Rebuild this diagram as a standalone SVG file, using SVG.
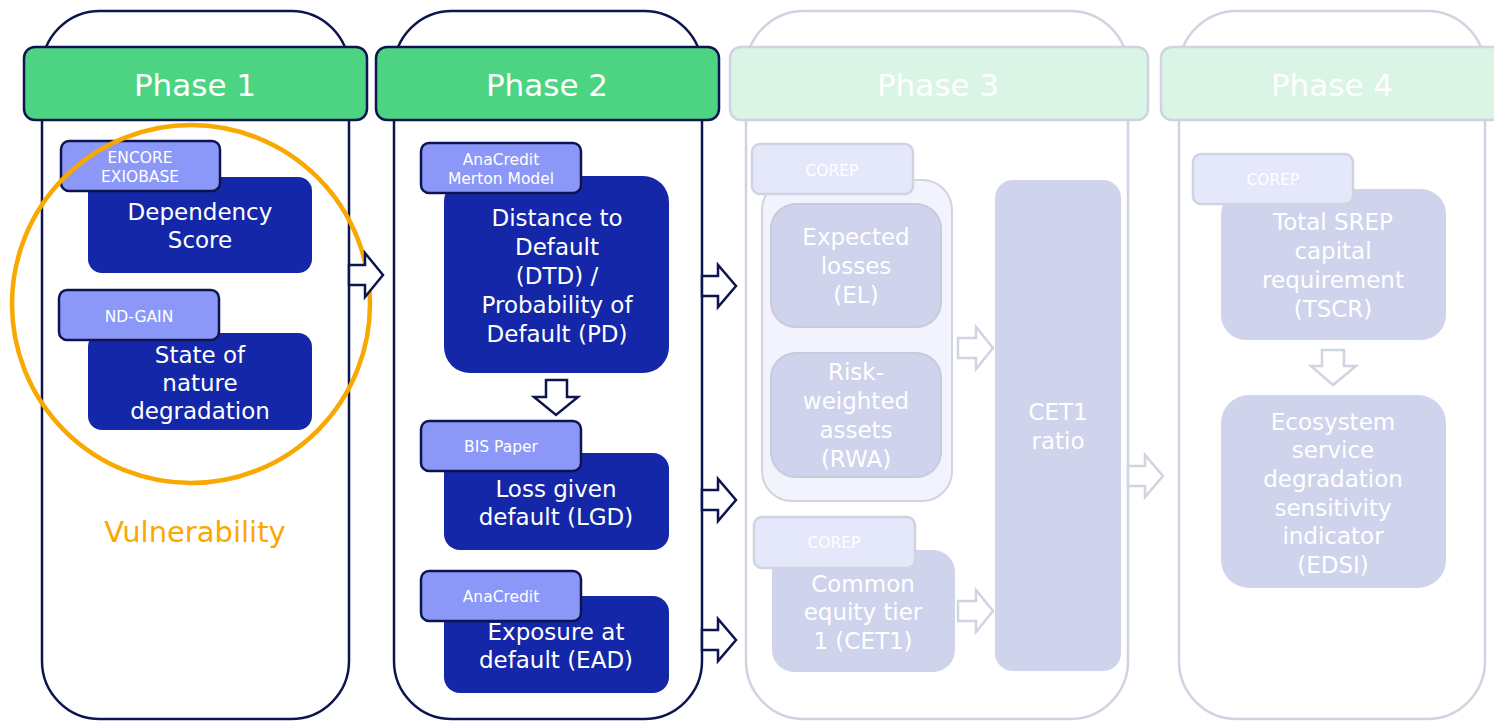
<svg xmlns="http://www.w3.org/2000/svg" width="1494" height="721" viewBox="0 0 1494 721">
  <style>
    text { font-family: "DejaVu Sans", Verdana, sans-serif; text-anchor: middle; }
    .col { fill: #ffffff; stroke: #0d1450; stroke-width: 2.5; }
    .col-f { fill: #ffffff; stroke: #d0d3e0; stroke-width: 2.5; }
    .hdr { fill: #4cd483; stroke: #0d1450; stroke-width: 2.5; }
    .hdr-f { fill: #daf5e6; stroke: #d0d3e0; stroke-width: 2.5; }
    .hdr-t { fill: #ffffff; font-size: 31px; }
    .box { fill: #1427a8; }
    .box-t { fill: #ffffff; font-size: 23px; }
    .tag { fill: #8b98f8; stroke: #0d1450; stroke-width: 2.5; }
    .tag-t { fill: #ffffff; font-size: 15.5px; }
    .box-f { fill: #d0d3ec; }
    .box-fs { fill: #d0d3ec; stroke: #c8cbdd; stroke-width: 2; }
    .grp-f { fill: #f2f3fc; stroke: #d0d3e0; stroke-width: 2; }
    .tag-f { fill: #e5e8fa; stroke: #d0d3e0; stroke-width: 2.5; }
    .arr { fill: #ffffff; stroke: #0d1450; stroke-width: 2.5; stroke-linejoin: miter; }
    .arr-f { fill: #ffffff; stroke: #d0d3e0; stroke-width: 2.5; stroke-linejoin: miter; }
  </style>

  <!-- Phase 1 -->
  <g id="phase1">
    <rect class="col" x="42" y="11" width="307" height="708" rx="58"/>
    <rect class="hdr" x="24" y="47" width="343" height="73" rx="11"/>
    <text class="hdr-t" x="195" y="96">Phase 1</text>
  </g>
  <g id="dependency-score">
    <rect class="box" x="88" y="177" width="224" height="96" rx="14"/>
    <text class="box-t" x="200" y="220">Dependency</text>
    <text class="box-t" x="200" y="248">Score</text>
  </g>
  <g id="tag-encore">
    <rect class="tag" x="61" y="141" width="159" height="50" rx="8"/>
    <text class="tag-t" x="140" y="163">ENCORE</text>
    <text class="tag-t" x="140" y="182">EXIOBASE</text>
  </g>
  <g id="nature-degradation">
    <rect class="box" x="88" y="333" width="224" height="97" rx="14"/>
    <text class="box-t" x="200" y="363">State of</text>
    <text class="box-t" x="200" y="391">nature</text>
    <text class="box-t" x="200" y="419">degradation</text>
  </g>
  <g id="tag-ndgain">
    <rect class="tag" x="59" y="290" width="160" height="50" rx="8"/>
    <text class="tag-t" x="139" y="322">ND-GAIN</text>
  </g>
  <g id="vulnerability">
    <circle cx="191" cy="304" r="179" fill="none" stroke="#f9a800" stroke-width="4.5"/>
    <text x="195" y="542" fill="#f9a800" font-size="29">Vulnerability</text>
  </g>

  <!-- Phase 2 -->
  <g id="phase2">
    <rect class="col" x="394" y="11" width="308" height="708" rx="58"/>
    <rect class="hdr" x="376" y="47" width="343" height="73" rx="11"/>
    <text class="hdr-t" x="547" y="96">Phase 2</text>
  </g>
  <g id="dtd-pd">
    <rect class="box" x="444" y="176" width="225" height="197" rx="26"/>
    <text class="box-t" x="557" y="226">Distance to</text>
    <text class="box-t" x="557" y="255">Default</text>
    <text class="box-t" x="557" y="284">(DTD) /</text>
    <text class="box-t" x="557" y="313">Probability of</text>
    <text class="box-t" x="557" y="342">Default (PD)</text>
  </g>
  <g id="tag-anacredit-merton">
    <rect class="tag" x="421" y="143" width="160" height="50" rx="8"/>
    <text class="tag-t" x="501" y="165">AnaCredit</text>
    <text class="tag-t" x="501" y="184">Merton Model</text>
  </g>
  <g id="lgd">
    <rect class="box" x="444" y="453" width="225" height="97" rx="16"/>
    <text class="box-t" x="556" y="497">Loss given</text>
    <text class="box-t" x="556" y="525">default (LGD)</text>
  </g>
  <g id="tag-bis">
    <rect class="tag" x="421" y="421" width="160" height="50" rx="8"/>
    <text class="tag-t" x="501" y="452">BIS Paper</text>
  </g>
  <g id="ead">
    <rect class="box" x="444" y="596" width="225" height="97" rx="16"/>
    <text class="box-t" x="556" y="640">Exposure at</text>
    <text class="box-t" x="556" y="668">default (EAD)</text>
  </g>
  <g id="tag-anacredit">
    <rect class="tag" x="421" y="571" width="160" height="50" rx="8"/>
    <text class="tag-t" x="501" y="602">AnaCredit</text>
  </g>

  <!-- Phase 3 -->
  <g id="phase3">
    <rect class="col-f" x="746" y="11" width="382" height="708" rx="58"/>
    <rect class="hdr-f" x="730" y="47" width="418" height="73" rx="11"/>
    <text class="hdr-t" x="938" y="96">Phase 3</text>
  </g>
  <g id="el-rwa-group">
    <rect class="grp-f" x="762" y="180" width="190" height="321" rx="30"/>
  </g>
  <g id="tag-corep-1">
    <rect class="tag-f" x="752" y="144" width="161" height="50" rx="8"/>
    <text class="tag-t" x="832" y="176">COREP</text>
  </g>
  <g id="expected-losses">
    <rect class="box-fs" x="771" y="204" width="170" height="123" rx="25"/>
    <text class="box-t" x="856" y="245">Expected</text>
    <text class="box-t" x="856" y="274">losses</text>
    <text class="box-t" x="856" y="303">(EL)</text>
  </g>
  <g id="rwa">
    <rect class="box-fs" x="771" y="353" width="170" height="124" rx="25"/>
    <text class="box-t" x="856" y="380">Risk-</text>
    <text class="box-t" x="856" y="409">weighted</text>
    <text class="box-t" x="856" y="438">assets</text>
    <text class="box-t" x="856" y="467">(RWA)</text>
  </g>
  <g id="cet1-ratio">
    <rect class="box-f" x="995" y="180" width="126" height="491" rx="18"/>
    <text class="box-t" x="1058" y="420">CET1</text>
    <text class="box-t" x="1058" y="449">ratio</text>
  </g>
  <g id="cet1">
    <rect class="box-f" x="772" y="550" width="183" height="122" rx="22"/>
    <text class="box-t" x="863" y="592">Common</text>
    <text class="box-t" x="863" y="620">equity tier</text>
    <text class="box-t" x="863" y="649">1 (CET1)</text>
  </g>
  <g id="tag-corep-2">
    <rect class="tag-f" x="754" y="517" width="161" height="51" rx="8"/>
    <text class="tag-t" x="834" y="548">COREP</text>
  </g>

  <!-- Phase 4 -->
  <g id="phase4">
    <rect class="col-f" x="1179" y="11" width="306" height="708" rx="58"/>
    <rect class="hdr-f" x="1161" y="47" width="350" height="73" rx="11"/>
    <text class="hdr-t" x="1332" y="96">Phase 4</text>
  </g>
  <g id="tscr">
    <rect class="box-f" x="1221" y="189" width="225" height="151" rx="25"/>
    <text class="box-t" x="1333" y="230">Total SREP</text>
    <text class="box-t" x="1333" y="259">capital</text>
    <text class="box-t" x="1333" y="288">requirement</text>
    <text class="box-t" x="1333" y="317">(TSCR)</text>
  </g>
  <g id="tag-corep-3">
    <rect class="tag-f" x="1193" y="154" width="160" height="50" rx="8"/>
    <text class="tag-t" x="1273" y="185">COREP</text>
  </g>
  <g id="edsi">
    <rect class="box-f" x="1221" y="395" width="225" height="193" rx="28"/>
    <text class="box-t" x="1333" y="430">Ecosystem</text>
    <text class="box-t" x="1333" y="458">service</text>
    <text class="box-t" x="1333" y="487">degradation</text>
    <text class="box-t" x="1333" y="516">sensitivity</text>
    <text class="box-t" x="1333" y="544">indicator</text>
    <text class="box-t" x="1333" y="573">(EDSI)</text>
  </g>

  <!-- Block arrows between phases and steps -->
  <g id="connectors">
    <polygon class="arr" points="349,265 365,265 365,253 383,275 365,297 365,285 349,285"/>
    <polygon class="arr" points="702,276 718,276 718,265 736,286 718,307 718,296 702,296"/>
    <polygon class="arr" points="702,490 718,490 718,479 736,500 718,521 718,510 702,510"/>
    <polygon class="arr" points="702,630 718,630 718,619 736,640 718,661 718,650 702,650"/>
    <polygon class="arr" points="546,380 567,380 567,397 578,397 556,415 534,397 546,397"/>
    <polygon class="arr-f" points="958,338 976,338 976,327 993,348 976,369 976,358 958,358"/>
    <polygon class="arr-f" points="958,601 976,601 976,590 993,611 976,632 976,621 958,621"/>
    <polygon class="arr-f" points="1128,466 1145,466 1145,455 1163,476 1145,497 1145,486 1128,486"/>
    <polygon class="arr-f" points="1322,350 1344,350 1344,366 1356,366 1333,385 1311,366 1322,366"/>
  </g>
</svg>
